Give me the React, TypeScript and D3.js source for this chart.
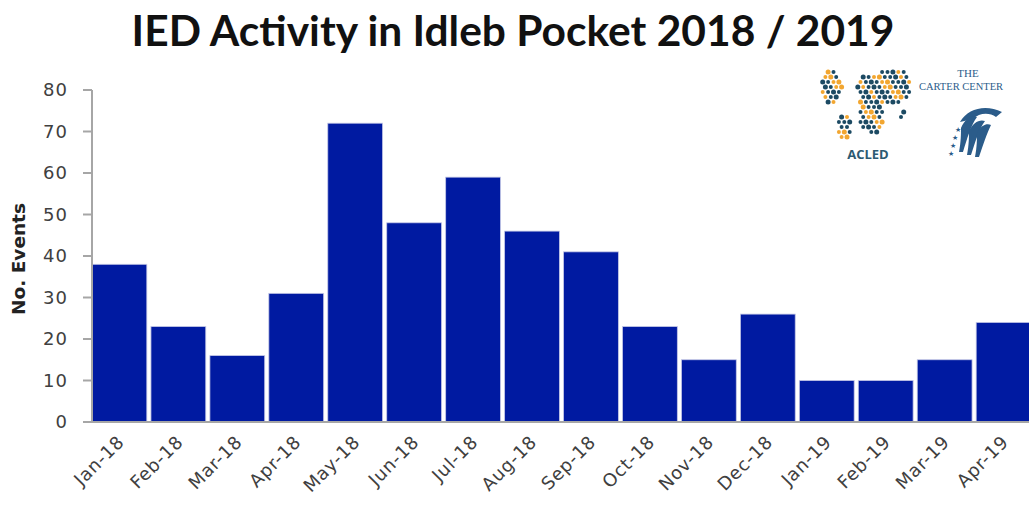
import React from "react";
import * as d3 from "d3";

const title = "IED Activity in Idleb Pocket 2018 / 2019";
const yTitle = "No. Events";
const months = ["Jan-18","Feb-18","Mar-18","Apr-18","May-18","Jun-18","Jul-18","Aug-18","Sep-18","Oct-18","Nov-18","Dec-18","Jan-19","Feb-19","Mar-19","Apr-19"];
const events = [38, 23, 16, 31, 72, 48, 59, 46, 41, 23, 15, 26, 10, 10, 15, 24];
const yTicks = [0, 10, 20, 30, 40, 50, 60, 70, 80];

const W = 1029, H = 515;
const plotLeft = 92, plotRight = 1031, plotTop = 90, plotBottom = 422;
const barColor = "#001aa1";
const axisColor = "#a6a6a6";
const textColor = "#404040";
const axisFont = "'DejaVu Sans', Verdana, sans-serif";

// decorative logo dots (not data)
function aclDots() {
  const shapes = [
    { cx: 832, cy: 86, rx: 10, ry: 19 },
    { cx: 844, cy: 127, rx: 7, ry: 13 },
    { cx: 866, cy: 84, rx: 10, ry: 12 },
    { cx: 872, cy: 112, rx: 13, ry: 22 },
    { cx: 893, cy: 86, rx: 17, ry: 19 },
    { cx: 902, cy: 116, rx: 4, ry: 6 },
  ];
  const dots: { x: number; y: number; c: string; r: number }[] = [];
  for (let j = 0; j < 16; j++) {
    for (let i = 0; i < 18; i++) {
      const x = 820 + i * 5.4 + (j % 2) * 2.7;
      const y = 67 + j * 5;
      const inside = shapes.some((s) => ((x - s.cx) / s.rx) ** 2 + ((y - s.cy) / s.ry) ** 2 <= 1);
      if (!inside) continue;
      const k = (i * 7 + j * 11) % 9;
      dots.push({ x, y, c: k < 3 ? "#f2a630" : "#1c4a63", r: k % 3 === 0 ? 2.5 : 2.0 });
    }
  }
  return dots;
}

export default function App() {
  const x = d3.scaleBand<string>().domain(months).range([plotLeft, plotRight]).paddingInner(0.07).paddingOuter(0.0);
  const y = d3.scaleLinear().domain([0, 80]).range([plotBottom, plotTop]);
  const dots = aclDots();
  return (
    <svg width={W} height={H} style={{ position: "absolute", left: 0, top: 0, background: "#fff" }}>
      <rect width={W} height={H} fill="#fff" />
      <text x={513} y={46} textAnchor="middle" fontFamily="Lato, 'Open Sans', sans-serif" fontWeight="bold" fontSize={42.5} fill="#111">
        {title}
      </text>

      {/* bars */}
      {events.map((v, i) => (
        <rect key={months[i]} x={x(months[i])} y={y(v)} width={x.bandwidth()} height={y(0) - y(v)} fill={barColor} stroke="#c4c7e6" strokeWidth={0.8} />
      ))}

      {/* y axis */}
      <line x1={plotLeft} x2={plotLeft} y1={plotTop} y2={plotBottom} stroke={axisColor} strokeWidth={2} />
      <line x1={83} x2={W} y1={plotBottom} y2={plotBottom} stroke={axisColor} strokeWidth={2} />
      {yTicks.map((t) => (
        <g key={t}>
          <line x1={83} x2={plotLeft} y1={y(t)} y2={y(t)} stroke={axisColor} strokeWidth={2} />
          <text x={68} y={y(t)} dy="0.36em" textAnchor="end" fontFamily={axisFont} fontSize={18} letterSpacing={1} fill={textColor}>
            {t}
          </text>
        </g>
      ))}
      <text transform={`translate(25, ${(plotTop + plotBottom) / 2 + 3}) rotate(-90)`} textAnchor="middle" fontFamily={axisFont} fontWeight="bold" fontSize={18.5} fill="#222">
        {yTitle}
      </text>

      {/* x labels */}
      {months.map((m) => {
        const cx = (x(m) as number) + x.bandwidth() / 2 + 6;
        return (
          <text key={m} transform={`translate(${cx}, 443) rotate(-45)`} textAnchor="end" fontFamily={axisFont} fontSize={18} letterSpacing={0.8} fill={textColor}>
            {m}
          </text>
        );
      })}

      {/* ACLED logo */}
      <g>
        {dots.map((d, i) => (
          <circle key={i} cx={d.x} cy={d.y} r={d.r} fill={d.c} />
        ))}
        <text x={868} y={159} textAnchor="middle" fontFamily="'Open Sans', sans-serif" fontWeight="bold" fontSize={13} fill="#2c5a72">
          ACLED
        </text>
      </g>

      {/* Carter Center logo */}
      <g fill="#2b5c8a">
        <text x={968} y={77} textAnchor="middle" fontFamily="'Liberation Serif', serif" fontSize={11}>THE</text>
        <text x={961} y={90} textAnchor="middle" fontFamily="'Liberation Serif', serif" fontSize={10.5}>CARTER CENTER</text>
        <path d="M960,122 C968,108 986,104 1002,112 L996,117 C989,112 979,113 973,119 Z" />
        <path d="M961,128 C965,119 971,115 977,117 C971,125 967,139 963,152 L959,152 C961,142 961,134 961,128 Z" />
        <path d="M969,131 C973,123 979,119 985,121 C979,129 975,143 971,155 L967,155 C969,145 969,137 969,131 Z" />
        <path d="M977,133 C981,125 987,123 991,125 C987,133 983,145 979,157 L975,157 C977,147 977,139 977,133 Z" />
        <text x={955} y={132} fontSize={7}>★</text>
        <text x={952} y={140} fontSize={7}>★</text>
        <text x={950} y={148} fontSize={7}>★</text>
        <text x={948} y={156} fontSize={7}>★</text>
      </g>
    </svg>
  );
}
